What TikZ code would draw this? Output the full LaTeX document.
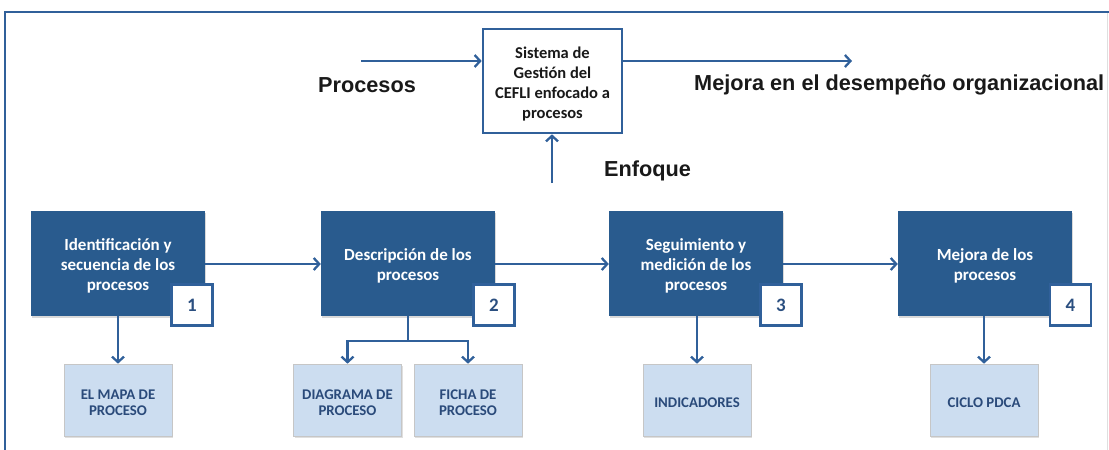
\documentclass[tikz,border=0pt]{standalone}
\usepackage{fontspec}
\setmainfont{Carlito}
\newfontfamily\arialb{Liberation Sans}
\usetikzlibrary{arrows.meta,shadows,positioning}
\definecolor{darkbox}{HTML}{295B8E}
\definecolor{linecol}{HTML}{30609A}
\definecolor{lightbox}{HTML}{CCDDF0}
\definecolor{lighttext}{HTML}{2A4A7A}
\definecolor{badgetext}{HTML}{2B4F80}
\tikzset{
  arr/.style={draw=linecol,line width=2.8pt,-{Straight Barb[length=5.5pt,width=12pt,line width=2.3pt]}},
  plain/.style={draw=linecol,line width=2.8pt},
  stagebox/.style={fill=darkbox,draw=none,minimum width=174pt,minimum height=105pt,inner sep=0pt,
    drop shadow={shadow xshift=1pt,shadow yshift=-1.5pt,opacity=0.3}},
  stagetext/.style={align=center,text=white,inner sep=0pt,font=\bfseries\fontsize{17}{20}\selectfont,yshift=-2.5pt},
  badge/.style={fill=white,draw=linecol,line width=2.2pt,minimum width=41pt,minimum height=41pt,inner sep=0pt,
    text=badgetext,font=\bfseries\fontsize{19}{22}\selectfont,
    drop shadow={shadow xshift=1pt,shadow yshift=-1.5pt,opacity=0.3}},
  toolbox/.style={fill=lightbox,draw=gray!45,line width=0.6pt,minimum width=108pt,minimum height=72pt,inner sep=0pt,
    drop shadow={shadow xshift=1pt,shadow yshift=-1.5pt,opacity=0.25}},
  tooltext/.style={align=center,text=lighttext,inner sep=0pt,font=\bfseries\fontsize{14.8}{16.5}\selectfont,yshift=-2.5pt},
  sysbox/.style={fill=white,draw=linecol,line width=2.6pt,minimum width=139pt,minimum height=104pt,inner sep=0pt},
  systext/.style={align=center,text=black!90,inner sep=0pt,font=\bfseries\fontsize{16.5}{20}\selectfont,yshift=-3.5pt},
  biglabel/.style={font=\arialb\bfseries\fontsize{21.7}{26}\selectfont,text=black!90,inner sep=0pt}
}
\begin{document}
\begin{tikzpicture}[x=1pt,y=-1pt]
\useasboundingbox (0,0) rectangle (1109,450);
% frame
\draw[draw=gray!25,line width=1pt] (1107,12) -- (1107,450);
\draw[draw=linecol,line width=2.6pt] (5,450) -- (5,12) -- (1109,12);

% central system
\node[sysbox,label={[systext]center:{Sistema de\\Gestión del\\CEFLI enfocado a\\procesos}}] (sys) at (552.5,81) {};
\coordinate (inL) at (361,61);
\coordinate (outR) at (852,61);
\coordinate (upB) at (552,183);
\draw[arr] (inL) -- (inL -| sys.west);
\draw[arr] (outR -| sys.east) -- (outR);
\draw[arr] (upB) -- (upB |- sys.south);
\node[biglabel] (lproc) at (367,85) {Procesos};
\node[biglabel,anchor=west] (lmej) at (694,85) {Mejora en el desempeño organizacional};
\node[biglabel,anchor=west] (lenf) at (604,171) {Enfoque};

% stages
\node[stagebox,label={[stagetext]center:{Identificación y\\secuencia de los\\procesos}}] (s1) at (118,263.5) {};
\node[stagebox,label={[stagetext]center:{Descripción de los\\procesos}}] (s2) at (408,263.5) {};
\node[stagebox,label={[stagetext]center:{Seguimiento y\\medición de los\\procesos}}] (s3) at (696,263.5) {};
\node[stagebox,label={[stagetext]center:{Mejora de los\\procesos}}] (s4) at (985,263.5) {};

\node[badge] (b1) at (192,305) {1};
\node[badge] (b2) at (494,305) {2};
\node[badge] (b3) at (781,305) {3};
\node[badge] (b4) at (1070.5,305) {4};

% tools
\node[toolbox,label={[tooltext]center:{EL MAPA DE\\PROCESO}}] (t1) at (118,400) {};
\node[toolbox,label={[tooltext]center:{DIAGRAMA DE\\PROCESO}}] (t2) at (347.5,400) {};
\node[toolbox,label={[tooltext]center:{FICHA DE\\PROCESO}}] (t3) at (468,400) {};
\node[toolbox,label={[tooltext]center:{INDICADORES}}] (t4) at (697,400) {};
\node[toolbox,label={[tooltext]center:{CICLO PDCA}}] (t5) at (984,400) {};

% connectors
\draw[arr] (s1.east |- 0,264) -- (s2.west |- 0,264);
\draw[arr] (s2.east |- 0,264) -- (s3.west |- 0,264);
\draw[arr] (s3.east |- 0,264) -- (s4.west |- 0,264);

\draw[arr] (s1.south) -- (t1.north);
\coordinate (split) at (408,341);
\draw[plain] (s2.south) -- (split);
\draw[arr] (split) -| (t2.north);
\draw[arr] (split) -| (t3.north);
\draw[arr] (s3.south -| t4.north) -- (t4.north);
\draw[arr] (s4.south -| t5.north) -- (t5.north);
\end{tikzpicture}
\end{document}
